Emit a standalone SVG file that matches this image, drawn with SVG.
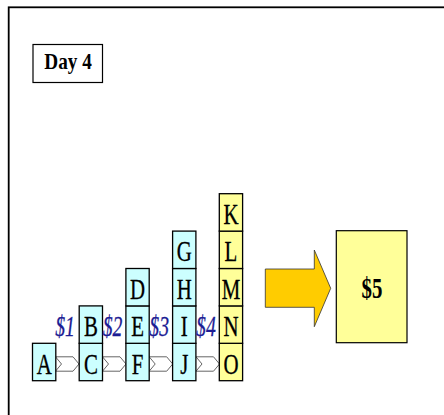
<svg xmlns="http://www.w3.org/2000/svg" width="444" height="415" viewBox="0 0 444 415">
<style>
.cell{stroke:#000;stroke-width:1.3}
.c{fill:#CCFFFF}
.y{fill:#FFFF99}
.lt{font-family:"Liberation Serif","Times New Roman",serif;font-size:29px;fill:#000;text-anchor:middle;stroke:#000;stroke-width:0.3}
.dl{font-family:"Liberation Serif","Times New Roman",serif;font-size:29px;font-style:italic;fill:#1C1C94;text-anchor:middle;stroke:#1C1C94;stroke-width:0.3}
.chev{fill:#fff;stroke:#666;stroke-width:1}
</style>
<rect x="0" y="0" width="444" height="415" fill="#fff"/>
<rect x="8.7" y="7.3" width="460" height="430" fill="none" stroke="#000" stroke-width="1.8"/>
<g id="day4">
<rect x="33" y="44.5" width="69.5" height="38" fill="#fff" stroke="#000" stroke-width="1.2"/>
<text transform="translate(68,69) scale(0.8,1)" font-family="Liberation Serif,Times New Roman,serif" font-size="24" font-weight="bold" text-anchor="middle">Day 4</text>
</g>
<g id="connectors">
<polygon class="chev" points="55.5,356.8 73,356.8 79,364 73,371.2 55.5,371.2 61.5,364"/>
<polygon class="chev" points="102.5,356.8 120,356.8 126,364 120,371.2 102.5,371.2 108.5,364"/>
<polygon class="chev" points="149.2,356.8 166.7,356.8 172.7,364 166.7,371.2 149.2,371.2 155.2,364"/>
<polygon class="chev" points="196,356.8 213.5,356.8 219.5,364 213.5,371.2 196,371.2 202,364"/>
<polygon id="bigarrow" points="265.3,269 314.3,269 314.3,250 330.7,288.3 314.3,326.7 314.3,307.3 265.3,307.3" fill="#FFCC00" stroke="#333" stroke-width="0.8"/>
</g>
<g id="colA">
<rect class="cell c" x="32.5" y="343.3" width="23.3" height="37.4"/>
<text class="lt" transform="translate(44.2,373.5) scale(0.72,1)">A</text>
</g>
<g id="colB">
<rect class="cell c" x="79.2" y="343.3" width="23.3" height="37.4"/>
<rect class="cell c" x="79.2" y="305.9" width="23.3" height="37.4"/>
<text class="lt" transform="translate(90.9,373.5) scale(0.72,1)">C</text>
<text class="lt" transform="translate(90.9,336.1) scale(0.72,1)">B</text>
</g>
<g id="colC">
<rect class="cell c" x="125.9" y="343.3" width="23.3" height="37.4"/>
<rect class="cell c" x="125.9" y="305.9" width="23.3" height="37.4"/>
<rect class="cell c" x="125.9" y="268.5" width="23.3" height="37.4"/>
<text class="lt" transform="translate(137.6,373.5) scale(0.72,1)">F</text>
<text class="lt" transform="translate(137.6,336.1) scale(0.72,1)">E</text>
<text class="lt" transform="translate(137.6,298.7) scale(0.72,1)">D</text>
</g>
<g id="colD">
<rect class="cell c" x="172.6" y="343.3" width="23.3" height="37.4"/>
<rect class="cell c" x="172.6" y="305.9" width="23.3" height="37.4"/>
<rect class="cell c" x="172.6" y="268.5" width="23.3" height="37.4"/>
<rect class="cell c" x="172.6" y="231.1" width="23.3" height="37.4"/>
<text class="lt" transform="translate(184.3,373.5) scale(0.72,1)">J</text>
<text class="lt" transform="translate(184.3,336.1) scale(0.72,1)">I</text>
<text class="lt" transform="translate(184.3,298.7) scale(0.72,1)">H</text>
<text class="lt" transform="translate(184.3,261.3) scale(0.72,1)">G</text>
</g>
<g id="colE">
<rect class="cell y" x="219.3" y="343.3" width="23.3" height="37.4"/>
<rect class="cell y" x="219.3" y="305.9" width="23.3" height="37.4"/>
<rect class="cell y" x="219.3" y="268.5" width="23.3" height="37.4"/>
<rect class="cell y" x="219.3" y="231.1" width="23.3" height="37.4"/>
<rect class="cell y" x="219.3" y="193.7" width="23.3" height="37.4"/>
<text class="lt" transform="translate(231,373.5) scale(0.72,1)">O</text>
<text class="lt" transform="translate(231,336.1) scale(0.72,1)">N</text>
<text class="lt" transform="translate(231,298.7) scale(0.72,1)">M</text>
<text class="lt" transform="translate(231,261.3) scale(0.72,1)">L</text>
<text class="lt" transform="translate(231,223.9) scale(0.72,1)">K</text>
</g>
<g id="labels">
<text class="dl" transform="translate(65,336.1) scale(0.68,1)">$1</text>
<text class="dl" transform="translate(112.5,336.1) scale(0.68,1)">$2</text>
<text class="dl" transform="translate(159.2,336.1) scale(0.68,1)">$3</text>
<text class="dl" transform="translate(205.9,336.1) scale(0.68,1)">$4</text>
</g>
<g id="result">
<rect x="336.3" y="230.7" width="70.7" height="112" fill="#FFFF99" stroke="#000" stroke-width="1.2"/>
<text transform="translate(372,297.5) scale(0.72,1)" font-family="Liberation Serif,Times New Roman,serif" font-size="29" font-weight="bold" text-anchor="middle">$5</text>
</g>
</svg>
